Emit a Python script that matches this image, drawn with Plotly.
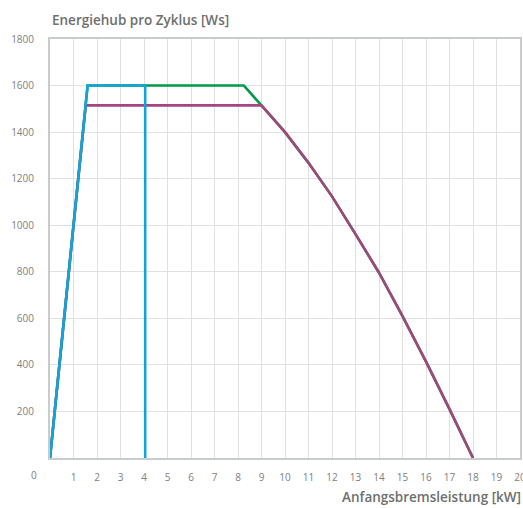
import plotly.graph_objects as go

# Energy per braking cycle vs. initial braking power, three device variants
green_x = [0, 1.6, 8.25, 9, 10, 11, 12, 13, 14, 15, 16, 17, 18]
green_y = [0, 1600, 1600, 1515, 1400, 1268, 1124, 962, 796, 610, 414, 210, 0]

purple_x = [0, 1.52, 9, 10, 11, 12, 13, 14, 15, 16, 17, 18]
purple_y = [0, 1515, 1515, 1400, 1268, 1124, 962, 796, 610, 414, 210, 0]

blue_x = [0, 1.6, 4.05, 4.05]
blue_y = [0, 1600, 1600, 0]

x_ticks = list(range(1, 21))
y_ticks = list(range(200, 2000, 200))

GREEN = "#009a48"
PURPLE = "#a3467f"
BLUE = "#12a3dc"
TEXT = "#6e6e6e"
FONT = "Open Sans"

fig = go.Figure()
fig.add_trace(go.Scatter(x=green_x, y=green_y, mode="lines",
                         line=dict(color=GREEN, width=2.6)))
fig.add_trace(go.Scatter(x=purple_x, y=purple_y, mode="lines",
                         line=dict(color=PURPLE, width=2.6)))
fig.add_trace(go.Scatter(x=blue_x, y=blue_y, mode="lines",
                         line=dict(color=BLUE, width=2.6)))

fig.update_layout(
    width=523, height=508,
    margin=dict(l=50, r=3, t=39, b=50),
    plot_bgcolor="white", paper_bgcolor="white",
    showlegend=False,
    font=dict(family=FONT, color="#808080", size=10),
)
fig.update_xaxes(
    range=[0, 20], tickvals=x_ticks, ticktext=[str(v) for v in x_ticks],
    showgrid=True, gridcolor="#e0e0e0", gridwidth=1,
    showline=True, linecolor="#c8cccc", linewidth=2, mirror=True,
    ticks="outside", ticklen=9, tickcolor="rgba(0,0,0,0)",
    ticklabeloverflow="allow", automargin=False, zeroline=False,
)
fig.update_yaxes(
    range=[0, 1800], tickvals=y_ticks, ticktext=[str(v) for v in y_ticks],
    showgrid=True, gridcolor="#e0e0e0", gridwidth=1,
    showline=True, linecolor="#c8cccc", linewidth=2, mirror=True,
    ticks="outside", ticklen=12, tickcolor="rgba(0,0,0,0)",
    automargin=False, zeroline=False,
)

# origin label sits left of the axis
fig.add_annotation(x=-0.033, y=0, xref="paper", yref="paper", text="0",
                   showarrow=False, yshift=-17, xanchor="center",
                   yanchor="middle",
                   font=dict(family=FONT, size=10, color="#808080"))

fig.add_annotation(x=0, y=1, xref="paper", yref="paper", yshift=19,
                   text="Energiehub pro Zyklus [Ws]", showarrow=False,
                   xanchor="left", yanchor="middle",
                   font=dict(family=FONT, size=13.5, color=TEXT, weight=600))
fig.add_annotation(x=1, y=0, xref="paper", yref="paper", yshift=-39,
                   xshift=3,
                   text="Anfangsbremsleistung [kW]", showarrow=False,
                   xanchor="right", yanchor="middle",
                   font=dict(family=FONT, size=13.5, color=TEXT, weight=600))

fig.write_html("out.html")
